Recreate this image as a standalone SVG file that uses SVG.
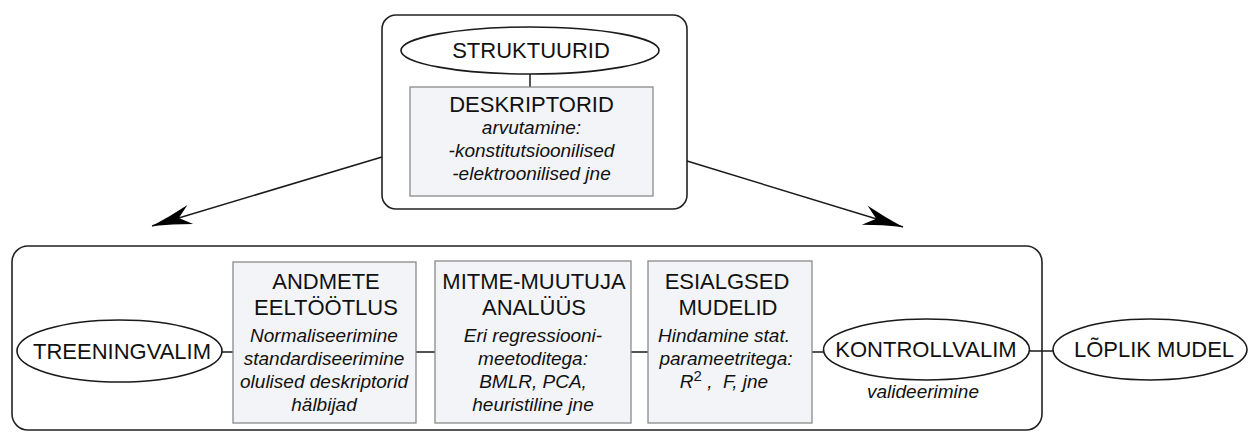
<svg xmlns="http://www.w3.org/2000/svg" width="1248" height="432" viewBox="0 0 1248 432">
<style>
.frame{fill:#fff;stroke:#222;stroke-width:1.6}
.ell{fill:#fff;stroke:#1a1a1a;stroke-width:1.6}
.box{fill:#f3f4f7;stroke:#8a8a8a;stroke-width:1.3}
.con{fill:none;stroke:#1a1a1a;stroke-width:1.5}
.t{font-family:"Liberation Sans",Arial,sans-serif;font-size:22px;fill:#111;text-anchor:middle}
.i{font-family:"Liberation Sans",Arial,sans-serif;font-size:19px;font-style:italic;fill:#111;text-anchor:middle}
</style>
<defs>
<marker id="ah" markerUnits="userSpaceOnUse" viewBox="-42 -12 44 24" refX="0" refY="0" markerWidth="44" markerHeight="24" orient="auto">
<path d="M0,0 Q-20,-4 -40,-10 L-28,0 L-40,10 Q-20,4 0,0 Z" fill="#000"/>
</marker>
</defs>
<g id="top-frame"><rect class="frame" x="382" y="15" width="305" height="194" rx="14"/></g>
<g id="bottom-frame"><rect class="frame" x="12" y="246" width="1030" height="184" rx="16"/></g>
<g id="connectors">
<line class="con" x1="530" y1="74" x2="530" y2="87"/>
<line class="con" x1="382" y1="157" x2="152" y2="226" marker-end="url(#ah)"/>
<line class="con" x1="687" y1="161" x2="903" y2="227" marker-end="url(#ah)"/>
<line class="con" x1="222" y1="352" x2="233" y2="352"/>
<line class="con" x1="416" y1="352" x2="435" y2="352"/>
<line class="con" x1="631" y1="352" x2="648" y2="352"/>
<line class="con" x1="812" y1="352" x2="824" y2="352"/>
<line class="con" x1="1029" y1="351" x2="1053" y2="351"/>
</g>
<g id="struktuurid">
<ellipse class="ell" cx="530" cy="50.5" rx="129" ry="23.5"/>
<text class="t" x="531" y="58">STRUKTUURID</text>
</g>
<g id="deskriptorid">
<rect class="box" x="410" y="87" width="243" height="109"/>
<text class="t" x="531.5" y="112">DESKRIPTORID</text>
<text class="i" x="531.5" y="134">arvutamine:</text>
<text class="i" x="531.5" y="157">-konstitutsioonilised</text>
<text class="i" x="531.5" y="180">-elektroonilised jne</text>
</g>
<g id="treeningvalim">
<ellipse class="ell" cx="119.5" cy="351" rx="102.5" ry="31"/>
<text class="t" x="122" y="359">TREENINGVALIM</text>
</g>
<g id="andmete">
<rect class="box" x="233" y="262" width="183" height="161"/>
<text class="t" x="326" y="289">ANDMETE</text>
<text class="t" x="326" y="315">EELTÖÖTLUS</text>
<text class="i" x="324" y="342">Normaliseerimine</text>
<text class="i" x="324" y="365">standardiseerimine</text>
<text class="i" x="324" y="388">olulised deskriptorid</text>
<text class="i" x="324" y="411">hälbijad</text>
</g>
<g id="mitme">
<rect class="box" x="435" y="261" width="196" height="162"/>
<text class="t" x="534" y="289">MITME-MUUTUJA</text>
<text class="t" x="534" y="315">ANALÜÜS</text>
<text class="i" x="533" y="342">Eri regressiooni-</text>
<text class="i" x="533" y="365">meetoditega:</text>
<text class="i" x="533" y="388">BMLR, PCA,</text>
<text class="i" x="533" y="411">heuristiline jne</text>
</g>
<g id="esialgsed">
<rect class="box" x="648" y="261" width="164" height="162"/>
<text class="t" x="727" y="289">ESIALGSED</text>
<text class="t" x="728" y="315">MUDELID</text>
<text class="i" x="724" y="342">Hindamine stat.</text>
<text class="i" x="726" y="365">parameetritega:</text>
<text class="i" x="724" y="388" xml:space="preserve">R<tspan dy="-7" font-size="15" font-style="normal">2</tspan><tspan dy="7"> ,  F, jne</tspan></text>
</g>
<g id="kontrollvalim">
<ellipse class="ell" cx="926.5" cy="349.5" rx="103" ry="30.5"/>
<text class="t" x="926" y="357">KONTROLLVALIM</text>
<text class="i" x="923" y="398">valideerimine</text>
</g>
<g id="loplik">
<ellipse class="ell" cx="1150" cy="349.5" rx="97" ry="30.5"/>
<text class="t" x="1154" y="357">LÕPLIK MUDEL</text>
</g>
</svg>
